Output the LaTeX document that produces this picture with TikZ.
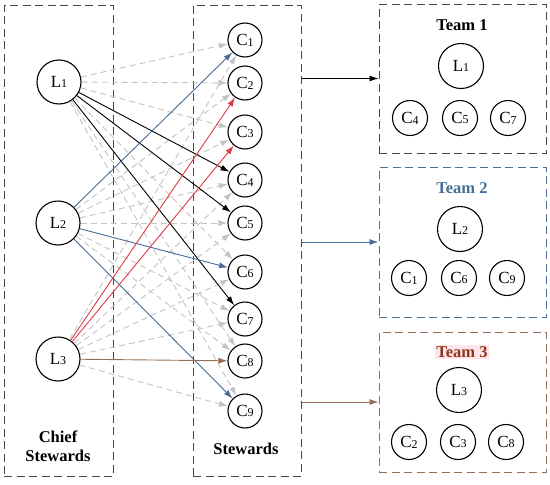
\documentclass[tikz,border=0pt]{standalone}
\usepackage{fontspec}
\setmainfont{Liberation Serif}
\usetikzlibrary{arrows.meta}
\definecolor{tblue}{RGB}{70,110,150}
\definecolor{tred}{RGB}{220,60,70}
\definecolor{tbrown}{RGB}{150,110,85}
\definecolor{tgray}{RGB}{195,195,195}
\definecolor{tthree}{RGB}{140,55,25}
\definecolor{tthreebg}{RGB}{255,228,238}
\definecolor{boxgray}{RGB}{70,70,70}
\newcommand\lbl[2]{#1\raisebox{-0.1ex}{\fontsize{12}{12}\selectfont #2}}
\tikzset{
  lnode/.style={circle, draw, line width=1.1pt, minimum size=44pt, inner sep=0pt, font=\fontsize{17}{17}\selectfont},
  cnode/.style={circle, draw, line width=1.1pt, minimum size=34pt, inner sep=0pt, font=\fontsize{17}{17}\selectfont},
  tlnode/.style={lnode, minimum size=45pt},
  tcnode/.style={cnode, minimum size=35pt},
  dbox/.style={draw=boxgray, line width=1pt, dash pattern=on 8pt off 4.5pt, inner sep=0pt},
  gconn/.style={draw=tgray, line width=0.9pt, dash pattern=on 6pt off 4pt, -{Latex[length=9pt,width=6pt]}},
  sconn/.style={line width=0.9pt, -{Latex[length=9pt,width=6pt]}},
  title/.style={font=\fontsize{16.5}{19}\selectfont\bfseries, align=center},
}
\begin{document}
\begin{tikzpicture}[x=1pt, y=-1pt]
\useasboundingbox (0,0) rectangle (550,485);
% boxes
\node[dbox, minimum width=109pt, minimum height=471pt] (lbox) at (58.5,240.5) {};
\node[dbox, minimum width=108pt, minimum height=471pt] (mbox) at (247,240.5) {};
\node[dbox, minimum width=167pt, minimum height=149pt] (t1) at (462.5,78.5) {};
\node[dbox, draw=tblue, minimum width=167pt, minimum height=150pt] (t2) at (462.5,242) {};
\node[dbox, draw=tbrown, minimum width=167pt, minimum height=140pt] (t3) at (462.5,402) {};
% chief stewards
\node[lnode] (L1) at (59,82) {\lbl{L}{1}};
\node[lnode] (L2) at (58,223) {\lbl{L}{2}};
\node[lnode] (L3) at (58,359) {\lbl{L}{3}};
\node[title] (ct) at (58,446) {Chief\\Stewards};
% stewards
\node[cnode] (C1) at (245,40) {\lbl{C}{1}};
\node[cnode] (C2) at (245,83) {\lbl{C}{2}};
\node[cnode] (C3) at (245,132) {\lbl{C}{3}};
\node[cnode] (C4) at (245,180) {\lbl{C}{4}};
\node[cnode] (C5) at (245,223) {\lbl{C}{5}};
\node[cnode] (C6) at (245,272) {\lbl{C}{6}};
\node[cnode] (C7) at (245,319) {\lbl{C}{7}};
\node[cnode] (C8) at (245,361) {\lbl{C}{8}};
\node[cnode] (C9) at (245,411) {\lbl{C}{9}};
\node[title] (st) at (246,449) {Stewards};
% gray dashed connectors
\foreach \c in {1,2,3,6,8,9} \draw[gconn] (L1) -- (C\c);
\foreach \c in {2,3,4,5,7,8} \draw[gconn] (L2) -- (C\c);
\foreach \c in {1,4,5,6,7,9} \draw[gconn] (L3) -- (C\c);
% solid connectors
\foreach \c in {4,5,7} \draw[sconn, black] (L1) -- (C\c);
\foreach \c in {1,6,9} \draw[sconn, tblue] (L2) -- (C\c);
\foreach \c in {2,3} \draw[sconn, tred] (L3) -- (C\c);
\draw[sconn, tbrown] (L3) -- (C8);
% arrows to teams
\draw[sconn, black] (mbox.east |- t1.west) -- (t1.west);
\draw[sconn, tblue] (mbox.east |- t2.west) -- (t2.west);
\draw[sconn, tbrown] (mbox.east |- t3.west) -- (t3.west);
% team 1
\node[title] (t1t) at (462,25) {Team 1};
\node[tlnode] (T1L) at (461,66) {\lbl{L}{1}};
\node[tcnode] (T1a) at (410,118) {\lbl{C}{4}};
\node[tcnode] (T1b) at (460,118) {\lbl{C}{5}};
\node[tcnode] (T1c) at (508,118) {\lbl{C}{7}};
% team 2
\node[title, text=tblue] (t2t) at (462,188) {Team 2};
\node[tlnode] (T2L) at (460,229) {\lbl{L}{2}};
\node[tcnode] (T2a) at (409,278) {\lbl{C}{1}};
\node[tcnode] (T2b) at (459,278) {\lbl{C}{6}};
\node[tcnode] (T2c) at (507,278) {\lbl{C}{9}};
% team 3
\node[title, text=tthree, fill=tthreebg, inner sep=1.5pt] (t3t) at (462,352) {Team 3};
\node[tlnode] (T3L) at (459,390) {\lbl{L}{3}};
\node[tcnode] (T3a) at (409,442) {\lbl{C}{2}};
\node[tcnode] (T3b) at (458,442) {\lbl{C}{3}};
\node[tcnode] (T3c) at (506,442) {\lbl{C}{8}};
\end{tikzpicture}
\end{document}
